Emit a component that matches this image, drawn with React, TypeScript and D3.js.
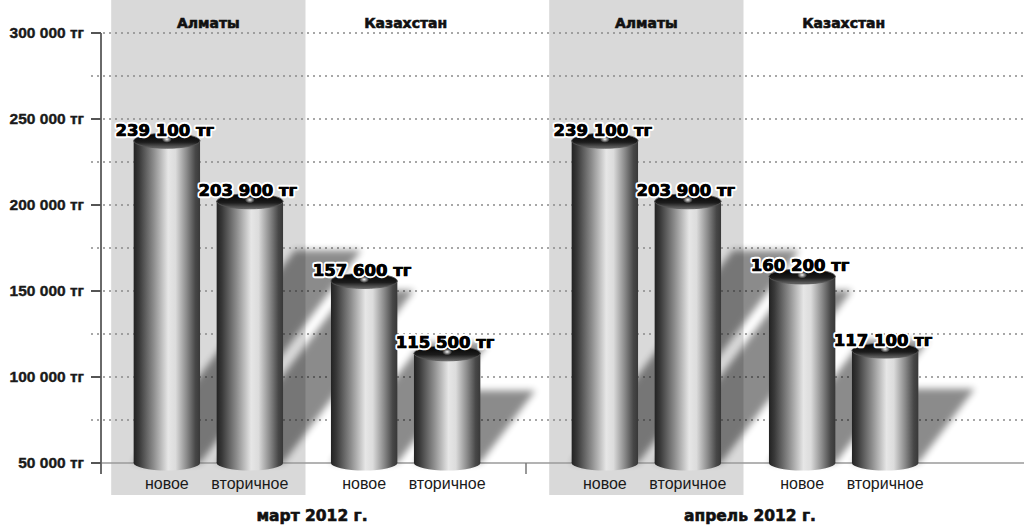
import React from 'react';
import * as d3 from 'd3';

// chart values
const months = ['март 2012 г.', 'апрель 2012 г.'];
const regions = ['Алматы', 'Казахстан'];
const types = ['новое', 'вторичное'];
const marchAlmaty = [239100, 203900];
const marchKazakhstan = [157600, 115500];
const aprilAlmaty = [239100, 203900];
const aprilKazakhstan = [160200, 117100];
const yTicks = [50000, 100000, 150000, 200000, 250000, 300000];
const yGrid = [75000, 100000, 125000, 150000, 175000, 200000, 225000, 250000, 275000, 300000];

const valuesByMonth = [
  [marchAlmaty, marchKazakhstan],
  [aprilAlmaty, aprilKazakhstan],
];

const width = 1024;
const height = 531;
const axisX = 101;

const fmt = (v: number) => `${d3.format(',')(v).replace(/,/g, ' ')} тг`;

const heavy = { fontFamily: "'DejaVu Sans', sans-serif", fontWeight: 'bold' as const };

const App: React.FC = () => {
  const y = d3.scaleLinear().domain([50000, 300000]).range([463, 33]);
  const base = y(50000);

  const xMonth = d3.scaleBand<string>().domain(months).range([88, 964]).padding(0);
  const xRegion = d3.scalePoint<string>().domain(regions).range([0, xMonth.bandwidth()]).padding(0.61);
  const xType = d3.scaleBand<string>().domain(types).range([-83, 83]).paddingInner(0.2).paddingOuter(0.1);
  const bw = xType.bandwidth();
  const groupStep = xRegion.step();

  const bars = months.flatMap((m, mi) =>
    regions.flatMap((r, ri) =>
      types.map((t, ti) => {
        const cx = (xMonth(m) ?? 0) + (xRegion(r) ?? 0);
        const x0 = cx + (xType(t) ?? 0);
        const v = valuesByMonth[mi][ri][ti];
        return { key: `${mi}-${ri}-${ti}`, type: t, x0, x1: x0 + bw, mid: x0 + bw / 2, v, top: y(v) + 3 };
      })
    )
  );

  const groups = months.flatMap((m) =>
    regions.map((r) => ({ key: m + r, region: r, cx: (xMonth(m) ?? 0) + (xRegion(r) ?? 0) }))
  );

  // shadow thrown up and to the right, sheared by the bar height
  const shadowPath = (b: typeof bars[number]) => {
    const h = base - b.top;
    const dx = h * 0.5;
    const top = base - h * 0.66;
    return `M${b.x0},${base}L${b.x1},${base}L${b.x1 + dx},${top}L${b.x0 + dx},${top}Z`;
  };

  const ry = 7.5;

  return (
    <svg width={width} height={height} style={{ position: 'absolute', left: 0, top: 0, background: '#fff' }}>
      <defs>
        <linearGradient id="cylBody" x1="0" x2="1" y1="0" y2="0">
          <stop offset="0" stopColor="#222" />
          <stop offset="0.08" stopColor="#383838" />
          <stop offset="0.3" stopColor="#8c8c8c" />
          <stop offset="0.52" stopColor="#e6e6e6" />
          <stop offset="0.63" stopColor="#dcdcdc" />
          <stop offset="0.8" stopColor="#8a8a8a" />
          <stop offset="0.93" stopColor="#474747" />
          <stop offset="1" stopColor="#383838" />
        </linearGradient>
        <linearGradient id="cylTop" x1="0" x2="0" y1="0" y2="1">
          <stop offset="0" stopColor="#000" />
          <stop offset="0.6" stopColor="#1c1c1c" />
          <stop offset="1" stopColor="#6a6a6a" />
        </linearGradient>
        <radialGradient id="spot">
          <stop offset="0" stopColor="#fff" stopOpacity="0.95" />
          <stop offset="1" stopColor="#fff" stopOpacity="0" />
        </radialGradient>
        <filter id="blur" x="-20%" y="-20%" width="140%" height="140%">
          <feGaussianBlur stdDeviation="3.5" />
        </filter>
      </defs>

      {/* grey panels behind the Almaty groups */}
      {groups
        .filter((g) => g.region === regions[0])
        .map((g) => (
          <rect key={g.key} x={g.cx - groupStep / 2 + 1.5} y={0} width={groupStep - 3} height={495} fill="#d9d9d9" />
        ))}

      {/* dotted grid */}
      {yGrid.map((t) => (
        <line key={t} x1={91} x2={width} y1={y(t)} y2={y(t)} stroke="#8a8a8a" strokeWidth={1.3} strokeDasharray="2,4" />
      ))}
      <line x1={axisX} x2={width} y1={base} y2={base} stroke="#9a9a9a" strokeWidth={1.5} />
      <line x1={xMonth(months[1])} x2={xMonth(months[1])} y1={base} y2={base + 11} stroke="#777" strokeWidth={1.5} />

      {/* shadows */}
      <g opacity={0.45} filter="url(#blur)">
        {bars.map((b) => (
          <path key={b.key} d={shadowPath(b)} fill="#000" />
        ))}
      </g>

      {/* cylinders */}
      {bars.map((b) => (
        <g key={b.key}>
          <ellipse cx={b.mid} cy={base} rx={bw / 2} ry={ry} fill="url(#cylBody)" />
          <rect x={b.x0} y={b.top} width={bw} height={base - b.top} fill="url(#cylBody)" />
          <ellipse cx={b.mid} cy={b.top} rx={bw / 2} ry={ry} fill="url(#cylTop)" stroke="#555" strokeWidth={0.8} />
          <ellipse cx={b.mid} cy={b.top - 1.5} rx={5} ry={3.5} fill="url(#spot)" />
        </g>
      ))}

      {/* value labels */}
      {bars.map((b) => (
        <text
          key={b.key}
          x={b.mid - 2}
          y={b.top - 5}
          textAnchor="middle"
          {...heavy}
          fontSize={16.5}
          fill="#000"
          stroke="#fff"
          strokeWidth={4.5}
          strokeLinejoin="round"
          style={{ paintOrder: 'stroke' }}
        >
          {fmt(b.v)}
        </text>
      ))}
      {bars.map((b) => (
        <text key={b.key} x={b.mid - 2} y={b.top - 5} textAnchor="middle" {...heavy} fontSize={16.5} fill="#000" stroke="#000" strokeWidth={0.7}>
          {fmt(b.v)}
        </text>
      ))}

      {/* category labels */}
      {bars.map((b) => (
        <text key={b.key} x={b.mid} y={489} textAnchor="middle" fontFamily="'Liberation Sans', Arial, sans-serif" fontSize={16} fill="#1a1a1a">
          {b.type}
        </text>
      ))}

      {/* region labels */}
      {groups.map((g) => (
        <text key={g.key} x={g.cx} y={28} textAnchor="middle" {...heavy} fontSize={14} fill="#111" stroke="#111" strokeWidth={0.6}>
          {g.region}
        </text>
      ))}

      {/* month labels */}
      {months.map((m) => (
        <text
          key={m}
          x={(xMonth(m) ?? 0) + xMonth.bandwidth() / 2 + 5}
          y={521}
          textAnchor="middle"
          {...heavy}
          fontSize={15.5}
          fill="#111"
          stroke="#111"
          strokeWidth={0.6}
        >
          {m}
        </text>
      ))}

      {/* y axis */}
      <line x1={axisX} x2={axisX} y1={y(300000)} y2={base + 11} stroke="#6a6a6a" strokeWidth={2} />
      {yTicks.map((t) => (
        <g key={t} transform={`translate(0,${y(t)})`}>
          <line x1={91} x2={axisX} stroke="#555" strokeWidth={2} />
          <text
            x={84}
            dy="0.35em"
            textAnchor="end"
            fontFamily="'Liberation Sans', Arial, sans-serif"
            fontWeight="bold"
            fontSize={15.5}
            fill="#1a1a1a"
            stroke="#1a1a1a"
            strokeWidth={0.4}
          >
            {fmt(t)}
          </text>
        </g>
      ))}
    </svg>
  );
};

export default App;
